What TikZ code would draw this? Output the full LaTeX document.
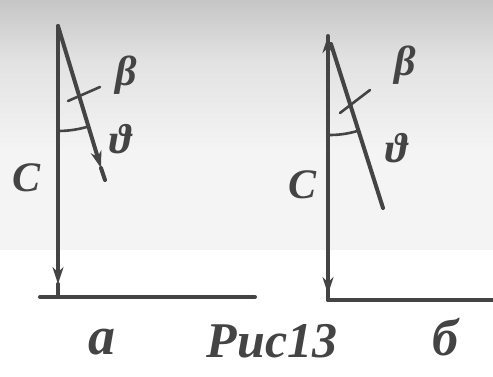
\documentclass[tikz,border=0pt]{standalone}
\usepackage{fontspec}
\setmainfont{Liberation Serif}
\usepackage{tikz}
\usetikzlibrary{arrows.meta}
\definecolor{scanink}{HTML}{444444}
\definecolor{scangrey}{HTML}{F4F4F4}
\definecolor{scandark}{HTML}{C6C6C6}
\definecolor{scanmid}{HTML}{E2E2E2}
\begin{document}
\begin{tikzpicture}[x=1pt,y=-1pt,
    ink/.style={draw=scanink,line width=4pt,line cap=round},
    thin ink/.style={draw=scanink,line width=2.6pt,line cap=round},
    tip/.style={-{Stealth[length=17pt,width=11pt]}},
    lbl/.style={text=scanink,font=\fontsize{42}{46}\selectfont\bfseries\itshape,inner sep=0pt}]
  \useasboundingbox (0,0) rectangle (493,377);
  % scanned paper
  \fill[scangrey] (0,0) rectangle (493,250);
  \shade[top color=scandark,bottom color=scanmid] (0,0) rectangle (493,60);
  \shade[top color=scanmid,bottom color=scangrey] (0,60) rectangle (493,150);
  % a
  \coordinate (aTop) at (58,26);
  \coordinate (aArr) at (58,284);
  \coordinate (aBot) at (58,297);
  \coordinate (aVel) at (101,168);
  \coordinate (aEnd) at (105,180);
  \draw[ink,tip] (aTop) -- (aArr);
  \draw[ink] (aArr) -- (aBot);
  \draw[ink] (40,297) -- (255,297);
  \draw[ink,tip] (aTop) -- (aVel);
  \draw[ink] (aVel) -- (aEnd);
  \draw[thin ink] (68,101) -- (100,87);
  \draw[thin ink] (aTop) ++(90:105) arc[start angle=90,end angle=73,radius=105];
  \node[lbl] (aC) at (27,178) {C};
  \node[lbl] (aBeta) at (126,75) {β};
  \node[lbl] (aTheta) at (121,139) {ϑ};
  % b
  \coordinate (bTop) at (328,36);
  \coordinate (bArr) at (328,294);
  \coordinate (bBot) at (328,300);
  \coordinate (bEnd) at (383,208);
  \draw[ink,tip] (bArr) -- (bTop);
  \draw[ink,tip] (bTop) -- (bArr);
  \draw[ink] (bArr) -- (bBot);
  \draw[ink] (328,300) -- (493,300);
  \draw[ink] (331,44) -- (bEnd);
  \draw[thin ink] (340,113) -- (370,90);
  \draw[thin ink] (330,40) ++(90:95) arc[start angle=90,end angle=73,radius=95];
  \node[lbl] (bC) at (303,185) {C};
  \node[lbl] (bBeta) at (405,65) {β};
  \node[lbl] (bTheta) at (397,148) {ϑ};
  % caption
  \node[lbl,font=\fontsize{54}{58}\selectfont\bfseries\itshape] (capA) at (102,342) {а};
  \node[lbl,font=\fontsize{50}{54}\selectfont\bfseries\itshape] (capFig) at (272,341) {Рис13};
  \node[lbl,font=\fontsize{52}{56}\selectfont\bfseries\itshape] (capB) at (445,337) {б};
\end{tikzpicture}
\end{document}
